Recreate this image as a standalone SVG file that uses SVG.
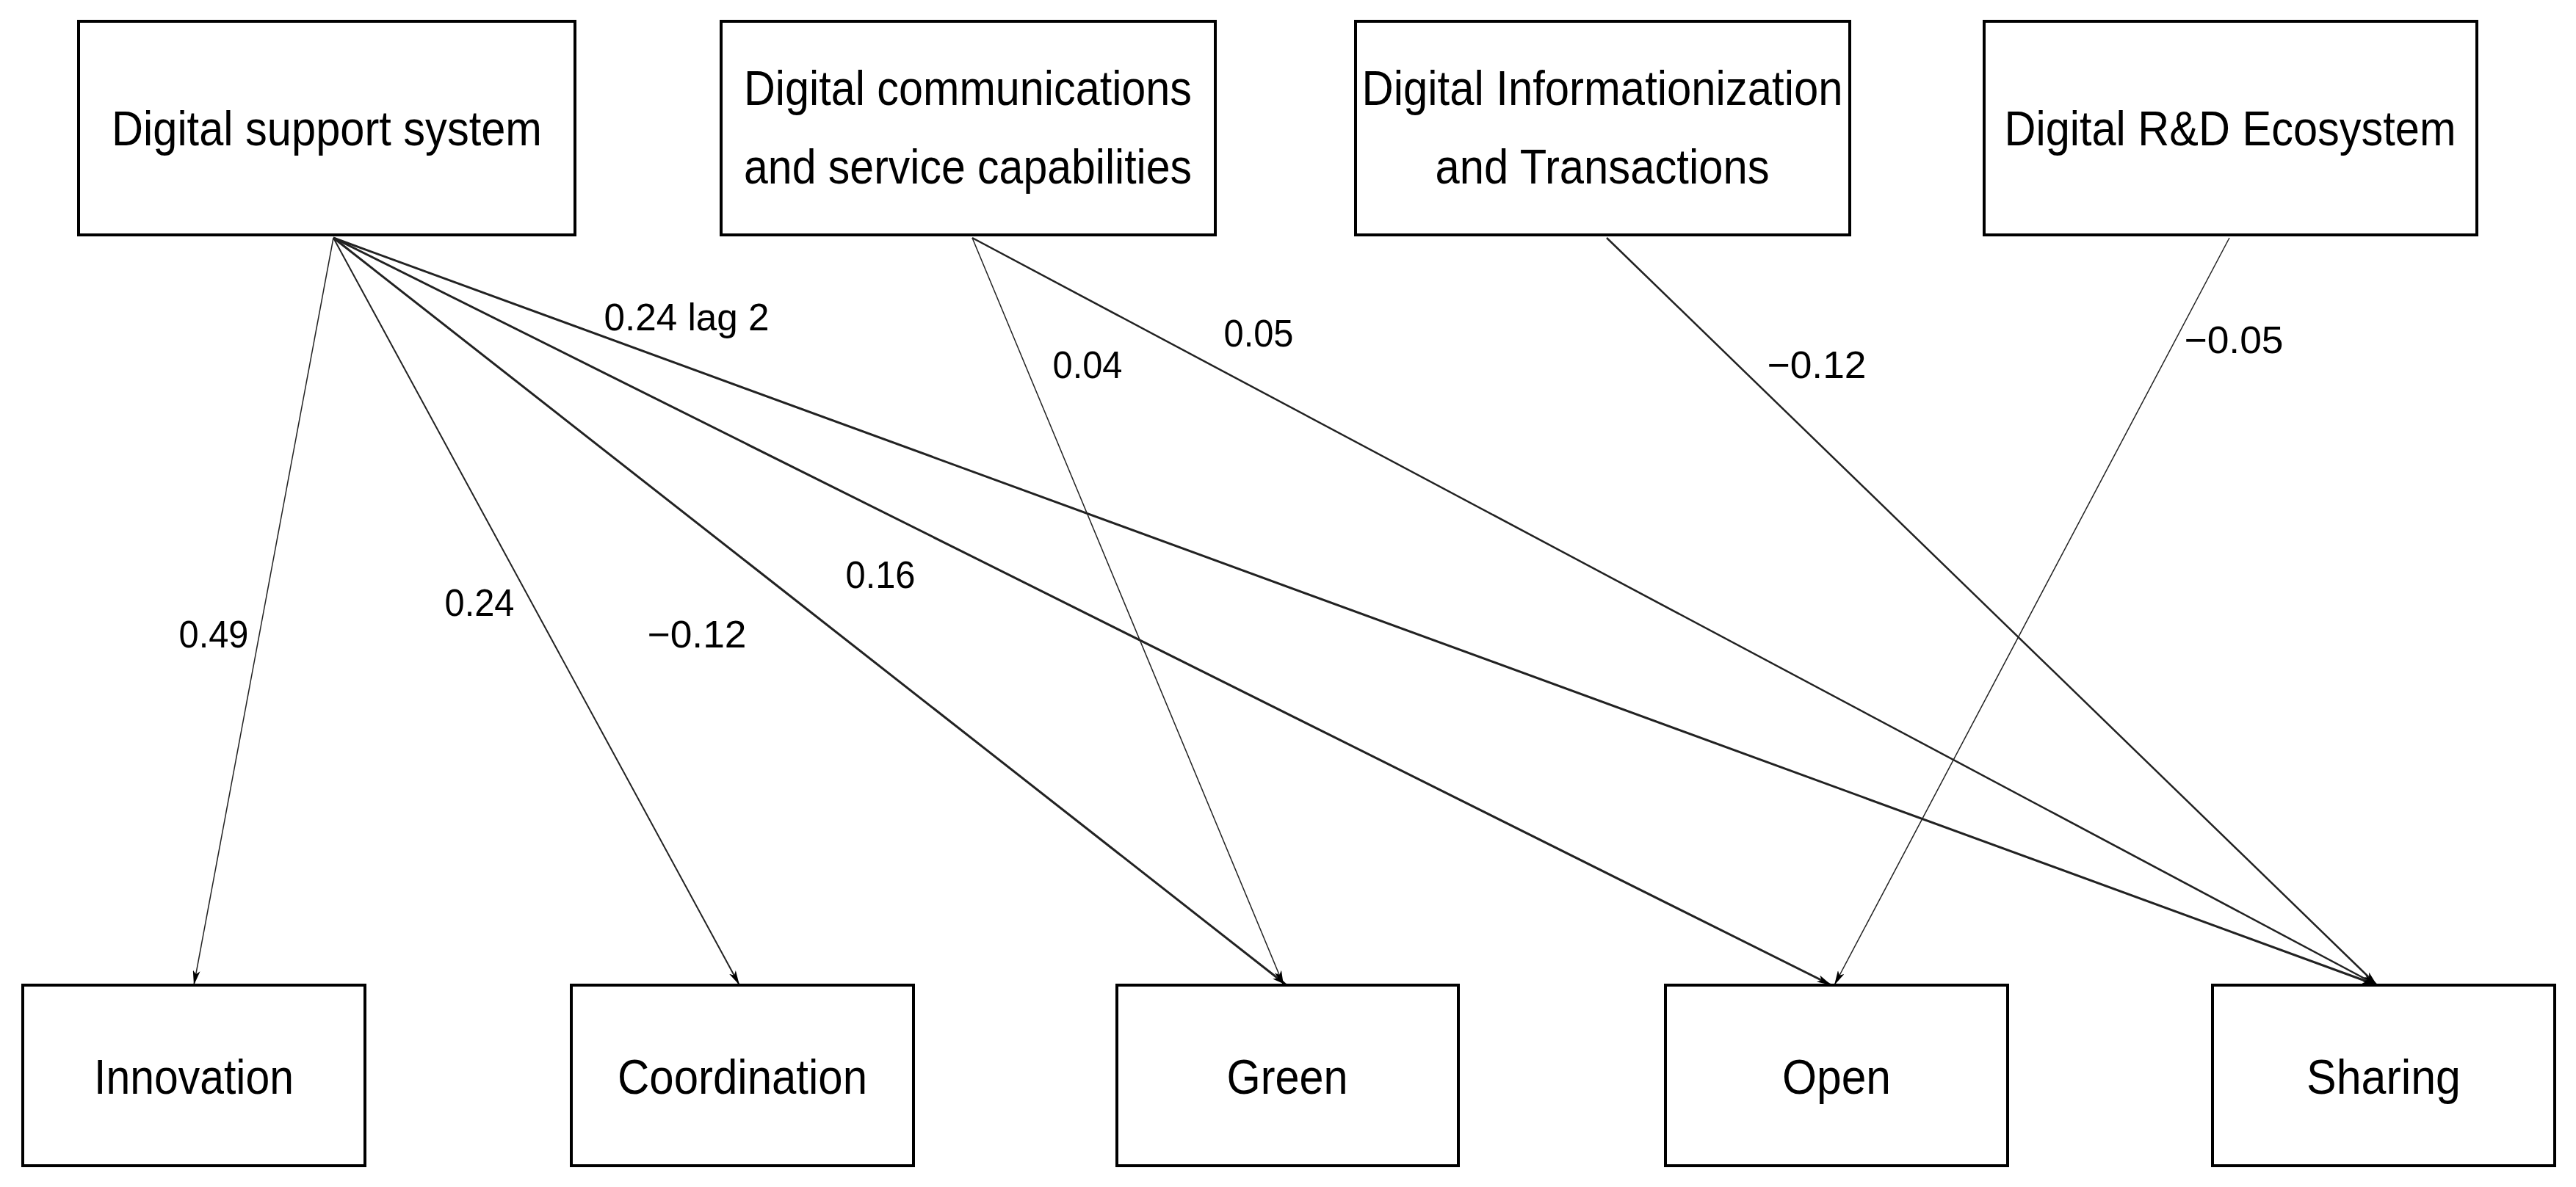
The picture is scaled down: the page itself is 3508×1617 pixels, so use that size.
<svg xmlns="http://www.w3.org/2000/svg" width="3508" height="1617" viewBox="0 0 3508 1617">
<style>
.box{fill:#fff;stroke:#000;stroke-width:4}
.t{font-family:"Liberation Sans",Arial,sans-serif;font-size:66px;fill:#000;text-anchor:middle}
.l{font-family:"Liberation Sans",Arial,sans-serif;font-size:52px;fill:#000;text-anchor:middle}
.e{stroke:#222;fill:none;marker-end:url(#a)}
</style>
<defs>
<marker id="a" viewBox="0 0 20 10" refX="20" refY="5" markerWidth="20" markerHeight="10" markerUnits="userSpaceOnUse" orient="auto">
<path d="M0,0 L20,5 L0,10 L5,5 z" fill="#000"/>
</marker>
</defs>
<g id="connectors">
<line class="e" stroke-width="1.5" x1="454" y1="324" x2="264" y2="1342"/>
<line class="e" stroke-width="2" x1="454" y1="324" x2="1007" y2="1342"/>
<line class="e" stroke-width="3" x1="454" y1="324" x2="1752" y2="1342"/>
<line class="e" stroke-width="3" x1="454" y1="324" x2="2494" y2="1342"/>
<line class="e" stroke-width="3" x1="454" y1="324" x2="3237" y2="1342"/>
<line class="e" stroke-width="1.5" x1="1324" y1="324" x2="1748" y2="1342"/>
<line class="e" stroke-width="2.5" x1="1324" y1="324" x2="3237" y2="1342"/>
<line class="e" stroke-width="2.5" x1="2188" y1="324" x2="3237" y2="1342"/>
<line class="e" stroke-width="1.5" x1="3036" y1="324" x2="2498" y2="1342"/>
</g>
<g id="labels">
<text class="l" x="935" y="450" textLength="225" lengthAdjust="spacingAndGlyphs">0.24 lag 2</text>
<text class="l" x="1481" y="515" textLength="95" lengthAdjust="spacingAndGlyphs">0.04</text>
<text class="l" x="1714" y="472" textLength="95" lengthAdjust="spacingAndGlyphs">0.05</text>
<text class="l" x="2474" y="515" textLength="135" lengthAdjust="spacingAndGlyphs">−0.12</text>
<text class="l" x="3042" y="481" textLength="135" lengthAdjust="spacingAndGlyphs">−0.05</text>
<text class="l" x="291" y="882" textLength="95" lengthAdjust="spacingAndGlyphs">0.49</text>
<text class="l" x="653" y="839" textLength="95" lengthAdjust="spacingAndGlyphs">0.24</text>
<text class="l" x="949" y="882" textLength="135" lengthAdjust="spacingAndGlyphs">−0.12</text>
<text class="l" x="1199" y="801" textLength="95" lengthAdjust="spacingAndGlyphs">0.16</text>
</g>
<g id="n1"><rect class="box" x="107" y="29" width="676" height="291"/><text class="t" x="445" y="198" textLength="586" lengthAdjust="spacingAndGlyphs">Digital support system</text></g>
<g id="n2"><rect class="box" x="982" y="29" width="673" height="291"/><text class="t" x="1318" y="143" textLength="610" lengthAdjust="spacingAndGlyphs">Digital communications</text><text class="t" x="1318" y="250" textLength="610" lengthAdjust="spacingAndGlyphs">and service capabilities</text></g>
<g id="n3"><rect class="box" x="1846" y="29" width="673" height="291"/><text class="t" x="2182" y="143" textLength="655" lengthAdjust="spacingAndGlyphs">Digital Informationization</text><text class="t" x="2182" y="250" textLength="455" lengthAdjust="spacingAndGlyphs">and Transactions</text></g>
<g id="n4"><rect class="box" x="2702" y="29" width="671" height="291"/><text class="t" x="3037" y="198" textLength="615" lengthAdjust="spacingAndGlyphs">Digital R&amp;D Ecosystem</text></g>
<g id="n5"><rect class="box" x="31" y="1342" width="466" height="246"/><text class="t" x="264" y="1490" textLength="272" lengthAdjust="spacingAndGlyphs">Innovation</text></g>
<g id="n6"><rect class="box" x="778" y="1342" width="466" height="246"/><text class="t" x="1011" y="1490" textLength="340" lengthAdjust="spacingAndGlyphs">Coordination</text></g>
<g id="n7"><rect class="box" x="1521" y="1342" width="465" height="246"/><text class="t" x="1753" y="1490" textLength="165" lengthAdjust="spacingAndGlyphs">Green</text></g>
<g id="n8"><rect class="box" x="2268" y="1342" width="466" height="246"/><text class="t" x="2501" y="1490" textLength="148" lengthAdjust="spacingAndGlyphs">Open</text></g>
<g id="n9"><rect class="box" x="3013" y="1342" width="466" height="246"/><text class="t" x="3246" y="1490" textLength="210" lengthAdjust="spacingAndGlyphs">Sharing</text></g>
</svg>
